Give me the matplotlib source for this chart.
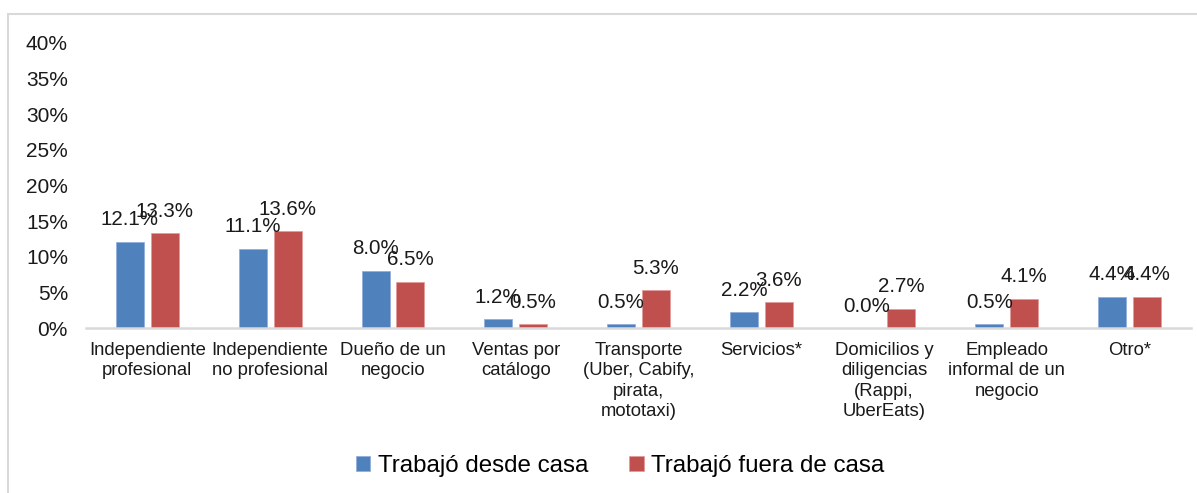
#!/usr/bin/env python3
"""Independent work type: home vs outside, grouped bar chart."""
import numpy as np
import matplotlib
matplotlib.use("Agg")
import matplotlib.pyplot as plt
from matplotlib.patches import Rectangle

plt.rcParams["font.family"] = ["Liberation Sans", "DejaVu Sans"]

categories = [
    "Independiente\nprofesional",
    "Independiente\nno profesional",
    "Dueño de un\nnegocio",
    "Ventas por\ncatálogo",
    "Transporte\n(Uber, Cabify,\npirata,\nmototaxi)",
    "Servicios*",
    "Domicilios y\ndiligencias\n(Rappi,\nUberEats)",
    "Empleado\ninformal de un\nnegocio",
    "Otro*",
]
desde_casa = [12.1, 11.1, 8.0, 1.2, 0.5, 2.2, 0.0, 0.5, 4.4]
fuera_casa = [13.3, 13.6, 6.5, 0.5, 5.3, 3.6, 2.7, 4.1, 4.4]
series_names = ["Trabajó desde casa", "Trabajó fuera de casa"]
yticks = [0, 5, 10, 15, 20, 25, 30, 35, 40]

BLUE, RED = "#4F81BD", "#C0504D"

fig = plt.figure(figsize=(11.97, 4.93), dpi=100)
fig.patches.append(Rectangle((8 / 1197, -0.1), 1.2, 1 - 14 / 493 + 0.1,
                             transform=fig.transFigure, fill=False,
                             edgecolor="#D9D9D9", lw=1.5, zorder=0))
ax = fig.add_axes([86 / 1197, 1 - 328 / 493, (1191 - 86) / 1197, (328 - 43) / 493])

x = np.arange(len(categories))
w, off = 0.228, 0.142
b1 = ax.bar(x - off, desde_casa, w, color=BLUE, edgecolor="#8EAADB", lw=0.5,
            label=series_names[0])
b2 = ax.bar(x + off, fuera_casa, w, color=RED, edgecolor="#E29A99", lw=0.5,
            label=series_names[1])

# value labels sit just above each bar (they overlap in places, as in the source)
for bars, vals in ((b1, desde_casa), (b2, fuera_casa)):
    for b, v in zip(bars, vals):
        ax.annotate(f"{v:.1f}%", (b.get_x() + b.get_width() / 2, v),
                    xytext=(0, 9), textcoords="offset points",
                    ha="center", va="bottom", fontsize=14.8, color="#1a1a1a")

ax.set_xlim(-0.5, len(categories) - 0.5)
ax.set_ylim(0, 40)
ax.set_yticks(yticks)
ax.set_yticklabels([f"{t}%" for t in yticks], fontsize=15, color="#1a1a1a")
ax.set_xticks(x)
ax.set_xticklabels(categories, fontsize=13.3, color="#1a1a1a", linespacing=1.27)
ax.tick_params(axis="both", length=0)
ax.tick_params(axis="y", pad=13)
ax.tick_params(axis="x", pad=10)
for s in ("top", "right", "left"):
    ax.spines[s].set_visible(False)
ax.spines["bottom"].set_color("#D9D9D9")
ax.spines["bottom"].set_linewidth(1.8)

fig.legend(handles=[b1, b2], loc="center",
           bbox_to_anchor=(620 / 1197, 1 - 466 / 493), ncol=2, frameon=False,
           fontsize=17.4, handlelength=0.6, handleheight=0.6,
           handletextpad=0.3, columnspacing=1.7)

fig.savefig("out.png", dpi=100, facecolor="white")
